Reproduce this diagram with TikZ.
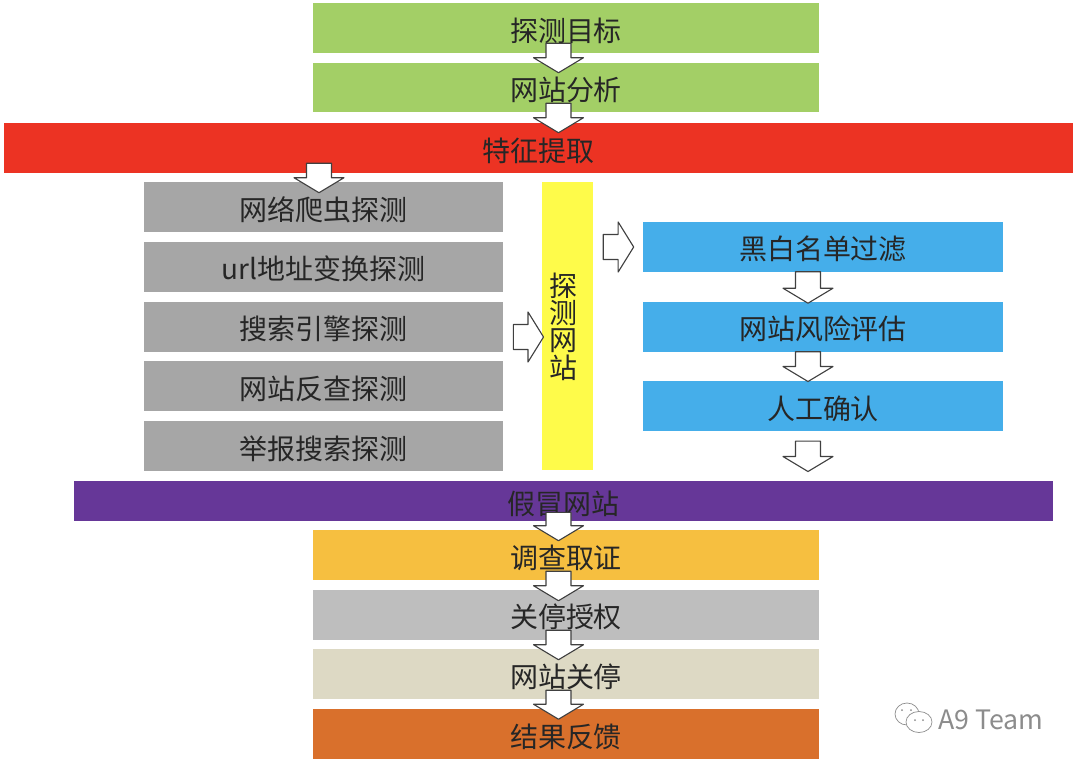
\documentclass[tikz,border=0pt]{standalone}
\usepackage{fontspec}
\setmainfont{Noto Sans CJK SC}
\usetikzlibrary{calc}
\definecolor{leaf}{HTML}{A3CF66}
\definecolor{alarm}{HTML}{EC3323}
\definecolor{stone}{HTML}{A6A6A6}
\definecolor{lemon}{HTML}{FEFB4A}
\definecolor{sky}{HTML}{45AEEA}
\definecolor{grape}{HTML}{663798}
\definecolor{amber}{HTML}{F6BF40}
\definecolor{silver}{HTML}{BEBEBE}
\definecolor{sand}{HTML}{DDD9C4}
\definecolor{rust}{HTML}{D9702C}
\tikzset{
  box/.style={inner sep=0pt, minimum height=1.25cm, text=black!85,
    text height=0.72cm, text depth=0.06cm,
    font=\fontsize{19.9}{24}\selectfont},
  midbox/.style={box, minimum width=12.65cm},
  listbox/.style={box, fill=stone, minimum width=8.985cm},
  bluebox/.style={box, fill=sky, minimum width=9cm},
  downflow/.style={draw=black!75, fill=white, line width=0.8pt, line join=round,
    to path={($(\tikztostart)+(-12.5,0)$) -- ($(\tikztostart)+(12.5,0)$)
      -- ($(\tikztotarget)+(12.5,-15)$) -- ($(\tikztotarget)+(25,-15)$)
      -- (\tikztotarget) -- ($(\tikztotarget)+(-25,-15)$)
      -- ($(\tikztotarget)+(-12.5,-15)$) -- cycle}},
  rightflow/.style={draw=black!75, fill=white, line width=0.8pt, line join=round,
    to path={($(\tikztostart)+(0,-12.5)$) -- ($(\tikztotarget)+(-15.5,-12.5)$)
      -- ($(\tikztotarget)+(-15.5,-25)$) -- (\tikztotarget)
      -- ($(\tikztotarget)+(-15.5,25)$) -- ($(\tikztotarget)+(-15.5,12.5)$)
      -- ($(\tikztostart)+(0,12.5)$) -- cycle}},
}
\begin{document}
\begin{tikzpicture}[x=0.025cm, y=-0.025cm]
    \useasboundingbox (0,0) rectangle (1080,765);
    % Top of the flow
    \node[midbox, fill=leaf] (target) at (566,28) {探测目标};
    \node[midbox, fill=leaf, minimum height=1.225cm] (analysis) at (566,87.5) {网站分析};
    \node[box, fill=alarm, minimum width=26.725cm] (feature) at (538.5,148) {特征提取};
    % Left column
    \node[listbox] (crawler) at (323.3,207) {网络爬虫探测};
    \node[listbox] (urlvar) at (323.3,266.75) {url地址变换探测};
    \node[listbox] (search) at (323.3,326.5) {搜索引擎探测};
    \node[listbox] (reverse) at (323.3,386.25) {网站反查探测};
    \node[listbox] (report) at (323.3,446) {举报搜索探测};
    % Middle bar
    \node[fill=lemon, inner sep=0pt, minimum width=1.265cm, minimum height=7.2cm] (probe) at (567.7,326) {};
    \node[inner sep=0pt, text=black!85, align=center,
      font=\fontsize{19.9}{27.5}\selectfont] (probetext) at (563.5,326.5) {探\\[-8pt]测\\[-8pt]网\\[-8pt]站};
    % Right column
    \node[bluebox] (blacklist) at (823,246.5) {黑白名单过滤};
    \node[bluebox] (risk) at (823,326.5) {网站风险评估};
    \node[bluebox] (manual) at (823,405.8) {人工确认};
    % Bottom of the flow
    \node[box, fill=grape, minimum width=24.475cm, minimum height=1cm] (fake) at (563.5,500.8) {假冒网站};
    \node[midbox, fill=amber] (evidence) at (566,555) {调查取证};
    \node[midbox, fill=silver] (grant) at (566,614.5) {关停授权};
    \node[midbox, fill=sand] (shutdown) at (566,674) {网站关停};
    \node[midbox, fill=rust] (feedback) at (566,734) {结果反馈};
    % Block arrows
    \draw[downflow] ([shift={(-7.5,-10)}]target.south) to ([shift={(-7.5,10)}]analysis.north);
    \draw[downflow] ([shift={(-7.5,-9)}]analysis.south) to ([shift={(20,10)}]feature.north);
    \draw[downflow] ([shift={(-219.5,-10)}]feature.south) to ([shift={(-4.3,11)}]crawler.north);
    \draw[rightflow] ([shift={(10,10.5)}]search.east) to ([shift={(1.4,11)}]probe.west);
    \draw[rightflow] ([shift={(10,-79)}]probe.east) to ([shift={(-9,0.5)}]blacklist.west);
    \draw[downflow] ([shift={(-15,0)}]blacklist.south) to ([shift={(-15,2)}]risk.north);
    \draw[downflow] ([shift={(-15,0)}]risk.south) to ([shift={(-15,1)}]manual.north);
    \draw[downflow] ([shift={(-15,10)}]manual.south) to ([shift={(244.5,-9)}]fake.north);
    \draw[downflow] ([shift={(-5,-8.7)}]fake.south) to ([shift={(-7.5,11)}]evidence.north);
    \draw[downflow] ([shift={(-7.5,-9)}]evidence.south) to ([shift={(-7.5,11.5)}]grant.north);
    \draw[downflow] ([shift={(-7.5,-9.5)}]grant.south) to ([shift={(-7.5,11)}]shutdown.north);
    \draw[downflow] ([shift={(-7.5,-9)}]shutdown.south) to ([shift={(-7.5,10.5)}]feedback.north);
    % Watermark
    \draw[black!45, fill=white, line width=0.5pt] (907,714) ellipse (12 and 11);
    \draw[black!45, fill=white, line width=0.5pt] (919,722) ellipse (13 and 10.5);
    \fill[black!45] (902,710) circle (1) (911,710) circle (1) (915,720) circle (1) (923,720) circle (1);
    \node[inner sep=0pt, text=black!45, font=\fontsize{19}{24}\selectfont] (mark) at (991,720) {A9 Team};
\end{tikzpicture}
\end{document}
